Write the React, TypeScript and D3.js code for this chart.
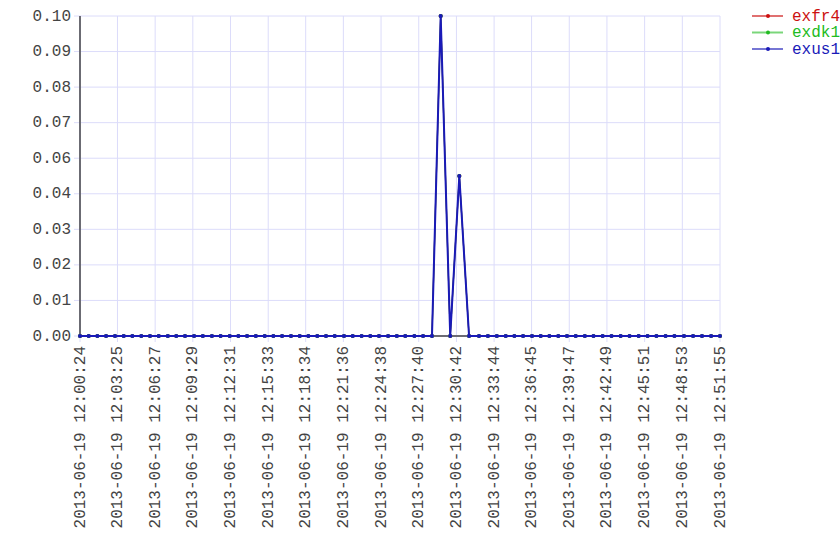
import React from 'react';
import * as d3 from 'd3';

// sample times (2013-06-19)
const times = [
  '12:00:24', '12:01:06', '12:01:48', '12:02:30', '12:03:13', '12:03:55', '12:04:37', '12:05:20',
  '12:06:02', '12:06:44', '12:07:28', '12:08:09', '12:08:51', '12:09:35', '12:10:17', '12:11:01',
  '12:11:43', '12:12:27', '12:13:09', '12:13:51', '12:14:33', '12:15:16', '12:15:58', '12:16:40',
  '12:17:23', '12:18:05', '12:18:47', '12:19:30', '12:20:12', '12:20:54', '12:21:39', '12:22:21',
  '12:23:04', '12:23:46', '12:24:28', '12:25:12', '12:25:54', '12:26:35', '12:27:19', '12:28:01',
  '12:28:44', '12:29:26', '12:30:12', '12:30:56', '12:31:43', '12:32:31', '12:33:14', '12:33:57',
  '12:34:40', '12:35:22', '12:36:04', '12:36:47', '12:37:29', '12:38:11', '12:38:54', '12:39:36',
  '12:40:18', '12:41:02', '12:41:44', '12:42:28', '12:43:11', '12:43:55', '12:44:38', '12:45:22',
  '12:46:05', '12:46:48', '12:47:32', '12:48:15', '12:49:01', '12:49:45', '12:50:28', '12:51:12',
  '12:51:55',
];

const exfr4 = [
  0, 0, 0, 0, 0, 0, 0, 0, 0, 0, 0, 0, 0, 0, 0, 0, 0, 0, 0, 0, 0, 0, 0, 0, 0, 0, 0, 0, 0, 0,
  0, 0, 0, 0, 0, 0, 0, 0, 0, 0, 0, 0.1, 0, 0.05, 0, 0, 0, 0, 0, 0, 0, 0, 0, 0, 0, 0, 0, 0, 0, 0,
  0, 0, 0, 0, 0, 0, 0, 0, 0, 0, 0, 0, 0,
];
const exdk1 = [
  0, 0, 0, 0, 0, 0, 0, 0, 0, 0, 0, 0, 0, 0, 0, 0, 0, 0, 0, 0, 0, 0, 0, 0, 0, 0, 0, 0, 0, 0,
  0, 0, 0, 0, 0, 0, 0, 0, 0, 0, 0, 0.1, 0, 0.05, 0, 0, 0, 0, 0, 0, 0, 0, 0, 0, 0, 0, 0, 0, 0, 0,
  0, 0, 0, 0, 0, 0, 0, 0, 0, 0, 0, 0, 0,
];
const exus1 = [
  0, 0, 0, 0, 0, 0, 0, 0, 0, 0, 0, 0, 0, 0, 0, 0, 0, 0, 0, 0, 0, 0, 0, 0, 0, 0, 0, 0, 0, 0,
  0, 0, 0, 0, 0, 0, 0, 0, 0, 0, 0, 0.1, 0, 0.05, 0, 0, 0, 0, 0, 0, 0, 0, 0, 0, 0, 0, 0, 0, 0, 0,
  0, 0, 0, 0, 0, 0, 0, 0, 0, 0, 0, 0, 0,
];

const xTickLabels = [
  '2013-06-19 12:00:24', '2013-06-19 12:03:25', '2013-06-19 12:06:27', '2013-06-19 12:09:29',
  '2013-06-19 12:12:31', '2013-06-19 12:15:33', '2013-06-19 12:18:34', '2013-06-19 12:21:36',
  '2013-06-19 12:24:38', '2013-06-19 12:27:40', '2013-06-19 12:30:42', '2013-06-19 12:33:44',
  '2013-06-19 12:36:45', '2013-06-19 12:39:47', '2013-06-19 12:42:49', '2013-06-19 12:45:51',
  '2013-06-19 12:48:53', '2013-06-19 12:51:55',
];
// the y axis is split into 9 equal steps, labels rounded to 2 decimals
const yTickLabels = ['0.00', '0.01', '0.02', '0.03', '0.04', '0.06', '0.07', '0.08', '0.09', '0.10'];
const yMax = 0.1;

const seriesNames = ['exfr4', 'exdk1', 'exus1'];
const seriesColors = ['#cc1111', '#22bb22', '#1a1ab8'];
const seriesValues = [exfr4, exdk1, exus1];

const parse = d3.timeParse('%Y-%m-%d %H:%M:%S');
const font = '"Liberation Mono", "Courier New", monospace';

export default function App() {
  const margin = { top: 16, left: 80, right: 120, bottom: 224 };
  const W = 840, H = 560;
  const dates = times.map(t => parse('2013-06-19 ' + t) as Date);

  const x = d3.scaleTime()
    .domain(d3.extent(dates) as [Date, Date])
    .range([margin.left, W - margin.right]);
  const y = d3.scaleLinear()
    .domain([0, yMax])
    .range([H - margin.bottom, margin.top]);
  const yTickVals = yTickLabels.map((_, i) => (i * yMax) / (yTickLabels.length - 1));

  const line = d3.line<number>()
    .x((d, i) => x(dates[i]))
    .y(d => y(d));

  const grid = '#dcdcfa';
  const x0 = margin.left, x1 = W - margin.right;
  const y0 = H - margin.bottom, y1 = margin.top;

  return (
    <svg width={W} height={H} style={{ position: 'absolute', left: 0, top: 0, background: '#fff' }}
      fontFamily={font}>
      {/* grid */}
      {yTickVals.map(t => (
        <line key={'gy' + t} x1={x0 - 6} x2={x1} y1={y(t)} y2={y(t)} stroke={grid} strokeWidth={1} />
      ))}
      {xTickLabels.map(l => {
        const px = x(parse(l) as Date);
        return <line key={'gx' + l} x1={px} x2={px} y1={y1} y2={y0 + 6} stroke={grid} strokeWidth={1} />;
      })}

      {/* axes */}
      <line x1={x0} x2={x0} y1={y1} y2={y0} stroke="#6b6b73" strokeWidth={2} />
      <line x1={x0} x2={x1} y1={y0} y2={y0} stroke="#6b6b73" strokeWidth={2} />

      {/* tick labels */}
      {yTickVals.map((t, i) => (
        <text key={'ty' + i} x={x0 - 9} y={y(t) + 4.5} textAnchor="end" fontSize={16} fill="#444">
          {yTickLabels[i]}
        </text>
      ))}
      {xTickLabels.map(l => {
        const px = x(parse(l) as Date);
        return (
          <text key={'tx' + l} transform={`translate(${px + 4.5},${y0 + 10}) rotate(-90)`}
            textAnchor="end" fontSize={16} fill="#444">
            {l}
          </text>
        );
      })}

      {/* series */}
      {seriesValues.map((vals, si) => (
        <g key={seriesNames[si]}>
          <path d={line(vals) || ''} fill="none" stroke={seriesColors[si]}
            strokeWidth={si === 2 ? 2 : 1.2} />
          {vals.map((v, i) => (
            <circle key={i} cx={x(dates[i])} cy={y(v)} r={2} fill={seriesColors[si]} />
          ))}
        </g>
      ))}

      {/* legend */}
      {seriesNames.map((n, i) => {
        const ly = 16 + i * 16.5;
        return (
          <g key={'lg' + n}>
            <line x1={752} x2={783} y1={ly} y2={ly} stroke={seriesColors[i]} strokeOpacity={0.6} strokeWidth={2} />
            <circle cx={768} cy={ly} r={2} fill={seriesColors[i]} />
            <text x={792} y={ly + 4.5} fontSize={16} fill={seriesColors[i]}>{n}</text>
          </g>
        );
      })}
    </svg>
  );
}
